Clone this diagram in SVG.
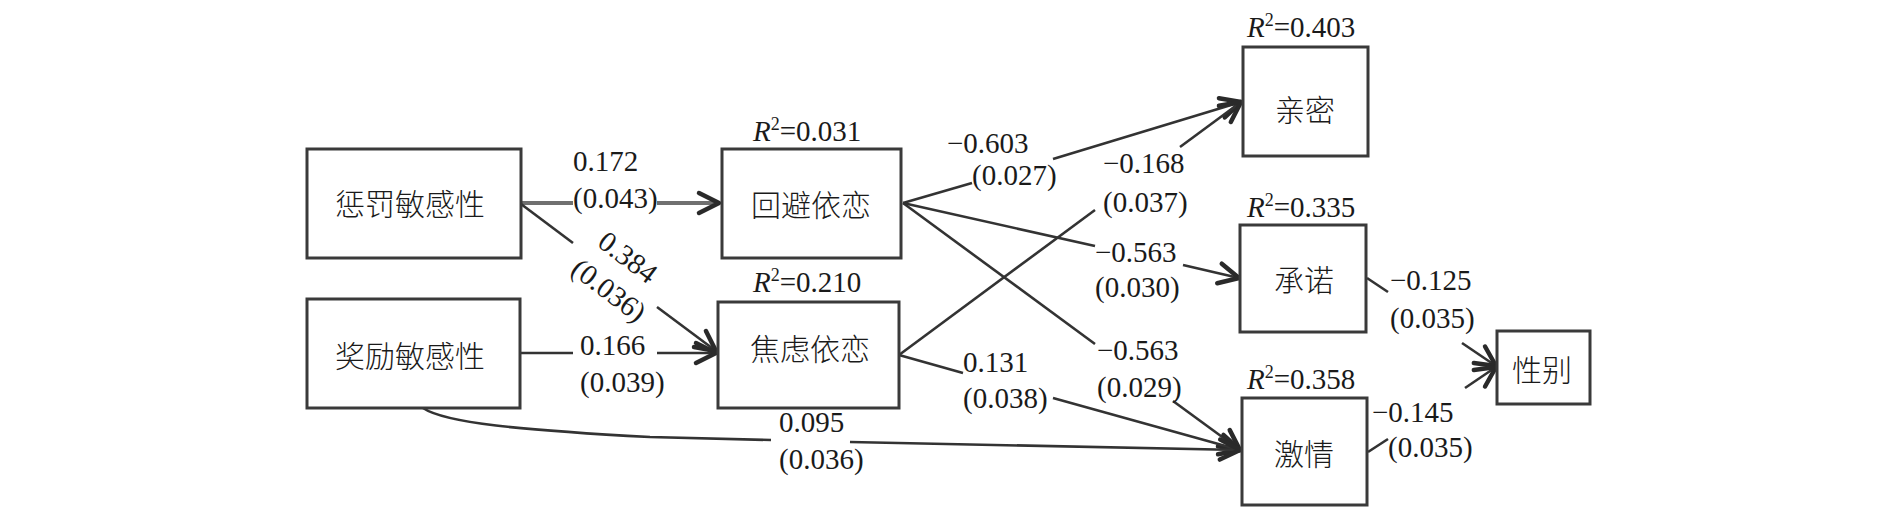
<svg xmlns="http://www.w3.org/2000/svg" width="1890" height="517" viewBox="0 0 1890 517">
<style>
.box{fill:#fff;stroke:#3a3a3a;stroke-width:3}
.cn{font-family:"Noto Sans CJK SC","Noto Sans CJK TC",sans-serif;font-size:30px;fill:#1a1a1a;text-anchor:middle;dominant-baseline:central;font-weight:300}
.lb{font-family:"Liberation Serif","Times New Roman",serif;font-size:29px;fill:#1a1a1a}
.r{font-style:italic}
.ln{fill:none;stroke:#333;stroke-width:2.6}
.lg{fill:none;stroke:#707070;stroke-width:4}
</style>
<defs>
<marker id="ah" viewBox="-4 -4 30 28" markerUnits="userSpaceOnUse" markerWidth="30" markerHeight="28" refX="20" refY="10" orient="auto">
<path d="M0,0 L20,10 L0,20" fill="none" stroke="#2a2a2a" stroke-width="4.5" stroke-linejoin="round" stroke-linecap="round"/>
</marker>
</defs>
<rect width="1890" height="517" fill="#fff"/>
<g id="connectors">
<path class="lg" d="M521,203 L573,203"/>
<path class="lg" d="M657,203 L719,203" marker-end="url(#ah)"/>
<path class="ln" d="M521,204 L573,243"/>
<path class="ln" d="M657,307 L716,351" marker-end="url(#ah)"/>
<path class="ln" d="M520,353 L573,353"/>
<path class="ln" d="M657,353 L716,353" marker-end="url(#ah)"/>
<path class="ln" d="M903,203 L972,183"/>
<path class="ln" d="M1053,159 L1241,102" marker-end="url(#ah)"/>
<path class="ln" d="M899,355 L1095,210"/>
<path class="ln" d="M1180,147 L1241,102" marker-end="url(#ah)"/>
<path class="ln" d="M903,203 L1095,246"/>
<path class="ln" d="M1183,265 L1239,278" marker-end="url(#ah)"/>
<path class="ln" d="M903,203 L1095,344"/>
<path class="ln" d="M1173,401 L1240,450" marker-end="url(#ah)"/>
<path class="ln" d="M899,355 L963,373"/>
<path class="ln" d="M1053,398 L1240,450" marker-end="url(#ah)"/>
<path class="ln" d="M423,408 C445,423 520,430 650,437 L771,440"/>
<path class="ln" d="M850,442 L1240,450" marker-end="url(#ah)"/>
<path class="ln" d="M1367,278 L1388,292"/>
<path class="ln" d="M1462,343 L1496,366" marker-end="url(#ah)"/>
<path class="ln" d="M1368,452 L1388,439"/>
<path class="ln" d="M1465,388 L1496,367" marker-end="url(#ah)"/>
</g>
<g id="node-chengfa"><rect class="box" x="307" y="149" width="214" height="109"/><text class="cn" x="410" y="202">惩罚敏感性</text></g>
<g id="node-jiangli"><rect class="box" x="307" y="299" width="213" height="109"/><text class="cn" x="410" y="354">奖励敏感性</text></g>
<g id="node-huibi"><rect class="box" x="722" y="149" width="179" height="109"/><text class="cn" x="811" y="203">回避依恋</text></g>
<g id="node-jiaolv"><rect class="box" x="718" y="302" width="181" height="106"/><text class="cn" x="810" y="347">焦虑依恋</text></g>
<g id="node-qinmi"><rect class="box" x="1243" y="47" width="125" height="109"/><text class="cn" x="1305" y="108">亲密</text></g>
<g id="node-chengnuo"><rect class="box" x="1240" y="225" width="126" height="107"/><text class="cn" x="1304" y="278">承诺</text></g>
<g id="node-jiqing"><rect class="box" x="1242" y="398" width="125" height="107"/><text class="cn" x="1304" y="452">激情</text></g>
<g id="node-xingbie"><rect class="box" x="1497" y="331" width="93" height="73"/><text class="cn" x="1542" y="368">性别</text></g>
<g id="r2-labels" class="lb">
<text x="753" y="141"><tspan class="r">R</tspan><tspan font-size="18" dy="-11">2</tspan><tspan dy="11">=0.031</tspan></text>
<text x="753" y="292"><tspan class="r">R</tspan><tspan font-size="18" dy="-11">2</tspan><tspan dy="11">=0.210</tspan></text>
<text x="1247" y="37"><tspan class="r">R</tspan><tspan font-size="18" dy="-11">2</tspan><tspan dy="11">=0.403</tspan></text>
<text x="1247" y="217"><tspan class="r">R</tspan><tspan font-size="18" dy="-11">2</tspan><tspan dy="11">=0.335</tspan></text>
<text x="1247" y="389"><tspan class="r">R</tspan><tspan font-size="18" dy="-11">2</tspan><tspan dy="11">=0.358</tspan></text>
</g>
<g id="path-labels" class="lb">
<text x="573" y="171">0.172</text>
<text x="573" y="208">(0.043)</text>
<text transform="translate(628,257) rotate(37)" text-anchor="middle" y="10">0.384</text>
<text transform="translate(609,290) rotate(37)" text-anchor="middle" y="10">(0.036)</text>
<text x="580" y="355">0.166</text>
<text x="580" y="392">(0.039)</text>
<text x="947" y="153">−0.603</text>
<text x="972" y="185">(0.027)</text>
<text x="1103" y="173">−0.168</text>
<text x="1103" y="212">(0.037)</text>
<text x="1095" y="262">−0.563</text>
<text x="1095" y="297">(0.030)</text>
<text x="1097" y="360">−0.563</text>
<text x="1097" y="397">(0.029)</text>
<text x="963" y="372">0.131</text>
<text x="963" y="408">(0.038)</text>
<text x="779" y="432">0.095</text>
<text x="779" y="469">(0.036)</text>
<text x="1390" y="290">−0.125</text>
<text x="1390" y="328">(0.035)</text>
<text x="1372" y="422">−0.145</text>
<text x="1388" y="457">(0.035)</text>
</g>
</svg>
